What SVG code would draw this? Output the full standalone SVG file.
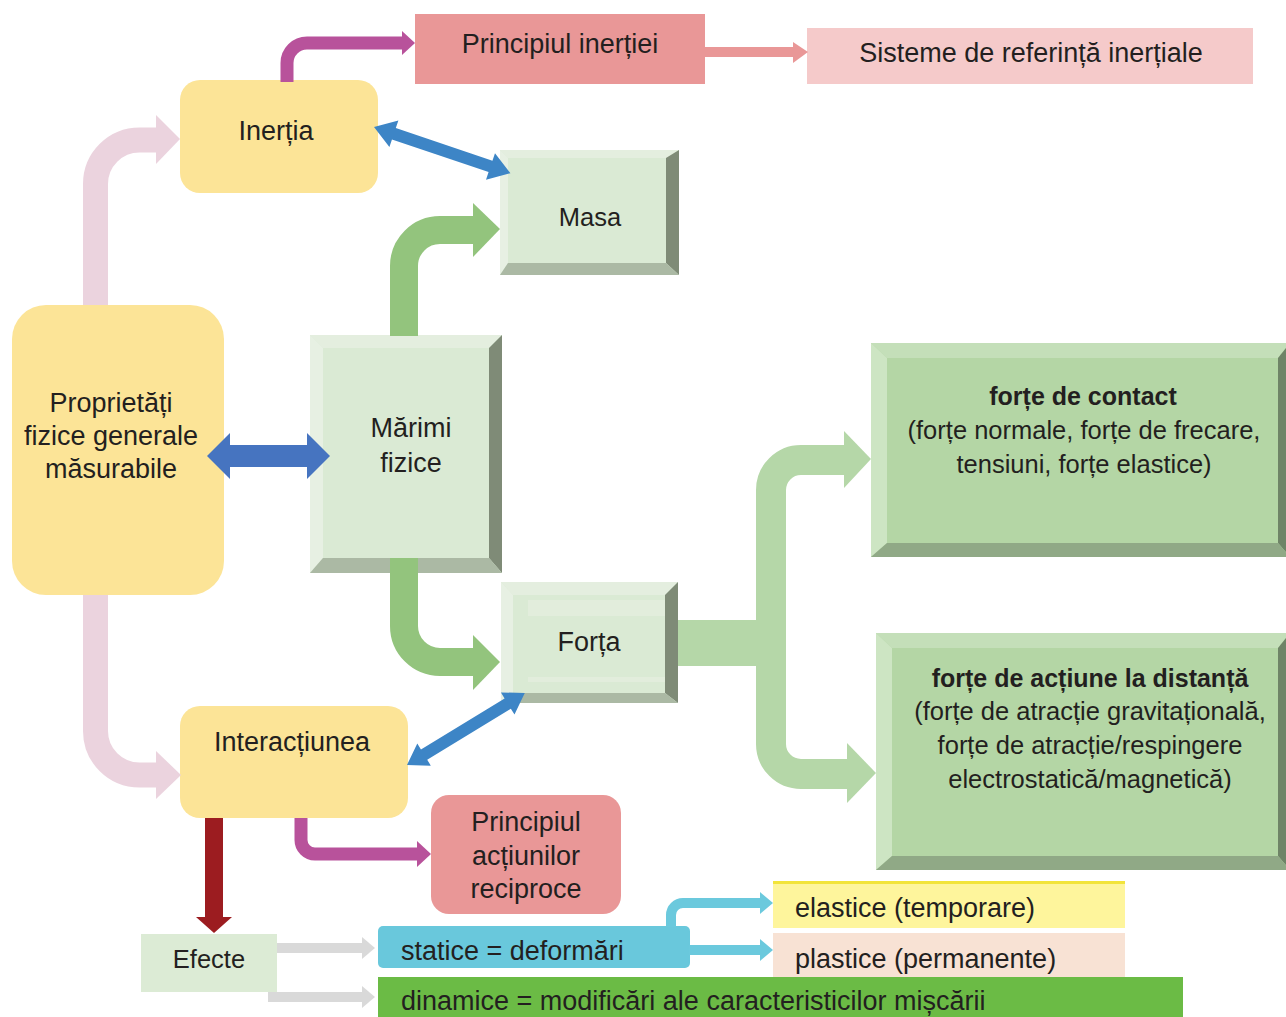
<svg xmlns="http://www.w3.org/2000/svg" width="1286" height="1017" viewBox="0 0 1286 1017">
  <style>
    text { font-family: "Liberation Sans", Arial, sans-serif; font-size: 27px; fill: #231F20; }
    .c { text-anchor: middle; }
    .s { font-size: 25.5px; }
    .g { font-size: 25.5px; }
    .b { font-weight: bold; font-size: 25px; }
    .yellow { fill: #FCE497; }
    .rose { fill: #E99797; }
    .face { fill: #DAEAD4; }
    .bt { fill: #E4EEDF; }
    .bl { fill: #E7F0E3; }
    .br { fill: #7F8B77; }
    .bb { fill: #ABB9A4; }
    .gface { fill: #B4D6A5; }
    .gt { fill: #C4DFB9; }
    .gl { fill: #CDE5C3; }
    .gr { fill: #6F8467; }
    .gb { fill: #90A986; }
    .pipe { fill: none; }
  </style>
  <rect width="1286" height="1017" fill="#FFFFFF"/>

  <!-- Nodes -->
  <g id="principiul-inertiei">
    <rect x="415" y="14" width="290" height="70" class="rose"/>
    <text x="560" y="53" class="c">Principiul inerției</text>
  </g>
  <g id="sisteme-referinta">
    <rect x="807" y="28" width="446" height="56" fill="#F5CACA"/>
    <text x="1031" y="62" class="c">Sisteme de referință inerțiale</text>
  </g>
  <g id="inertia">
    <rect x="180" y="80" width="198" height="113" rx="20" class="yellow"/>
    <text x="276" y="140" class="c">Inerția</text>
  </g>
  <g id="masa">
    <rect x="500" y="150" width="179" height="125" class="face"/>
    <polygon points="500,150 679,150 666,158 508,158" class="bt"/>
    <polygon points="500,150 508,158 508,263 500,275" class="bl"/>
    <polygon points="679,150 679,275 666,263 666,158" class="br"/>
    <polygon points="500,275 679,275 666,263 508,263" class="bb"/>
    <text x="590" y="226" class="c s">Masa</text>
  </g>
  <g id="proprietati">
    <rect x="12" y="305" width="212" height="290" rx="34" class="yellow"/>
    <text x="111" y="412" class="c">Proprietăți</text>
    <text x="111" y="445" class="c">fizice generale</text>
    <text x="111" y="478" class="c">măsurabile</text>
  </g>
  <g id="marimi-fizice">
    <rect x="310" y="335" width="192" height="238" class="face"/>
    <polygon points="310,335 502,335 489,348 323,348" class="bt"/>
    <polygon points="310,335 323,348 323,558 310,573" class="bl"/>
    <polygon points="502,335 502,573 489,558 489,348" class="br"/>
    <polygon points="310,573 502,573 489,558 323,558" class="bb"/>
    <text x="411" y="437" class="c">Mărimi</text>
    <text x="411" y="472" class="c">fizice</text>
  </g>
  <g id="forta">
    <rect x="501" y="582" width="177" height="121" class="face"/>
    <rect x="528" y="600" width="137" height="16" fill="#E2EDDC"/>
    <rect x="528" y="677" width="137" height="5" fill="#E2EDDC"/>
    <polygon points="501,582 678,582 665,595 513,595" class="bt"/>
    <polygon points="501,582 513,595 513,693 501,703" class="bl"/>
    <polygon points="678,582 678,703 665,693 665,595" class="br"/>
    <polygon points="501,703 678,703 665,693 513,693" class="bb"/>
    <text x="589" y="651" class="c">Forța</text>
  </g>
  <g id="forte-contact">
    <rect x="871" y="343" width="419" height="214" class="gface"/>
    <polygon points="871,343 1290,343 1278,358 887,358" class="gt"/>
    <polygon points="871,343 887,358 887,543 871,557" class="gl"/>
    <polygon points="1290,343 1290,557 1278,543 1278,358" class="gr"/>
    <polygon points="871,557 1290,557 1278,543 887,543" class="gb"/>
    <text x="1083" y="405" class="c b">forțe de contact</text>
    <text x="1084" y="439" class="c g">(forțe normale, forțe de frecare,</text>
    <text x="1084" y="473" class="c g">tensiuni, forțe elastice)</text>
  </g>
  <g id="forte-distanta">
    <rect x="876" y="633" width="414" height="237" class="gface"/>
    <polygon points="876,633 1290,633 1278,648 892,648" class="gt"/>
    <polygon points="876,633 892,648 892,856 876,870" class="gl"/>
    <polygon points="1290,633 1290,870 1278,856 1278,648" class="gr"/>
    <polygon points="876,870 1290,870 1278,856 892,856" class="gb"/>
    <text x="1090" y="687" class="c b">forțe de acțiune la distanță</text>
    <text x="1090" y="720" class="c g">(forțe de atracție gravitațională,</text>
    <text x="1090" y="754" class="c g">forțe de atracție/respingere</text>
    <text x="1090" y="788" class="c g">electrostatică/magnetică)</text>
  </g>
  <g id="interactiunea">
    <rect x="180" y="706" width="228" height="112" rx="20" class="yellow"/>
    <text x="292" y="751" class="c">Interacțiunea</text>
  </g>
  <g id="principiul-actiunilor">
    <rect x="431" y="795" width="190" height="119" rx="18" class="rose"/>
    <text x="526" y="831" class="c">Principiul</text>
    <text x="526" y="865" class="c">acțiunilor</text>
    <text x="526" y="898" class="c">reciproce</text>
  </g>
  <g id="efecte">
    <rect x="141" y="934" width="136" height="58" fill="#DCEBD5"/>
    <text x="209" y="968" class="c s">Efecte</text>
  </g>
  <g id="elastice">
    <rect x="773" y="882" width="352" height="46" fill="#FEF59C"/>
    <rect x="773" y="881" width="352" height="3" fill="#F2E43A"/>
    <text x="795" y="917">elastice (temporare)</text>
  </g>
  <g id="plastice">
    <rect x="773" y="933" width="352" height="46" fill="#F8E2D4"/>
    <text x="795" y="968">plastice (permanente)</text>
  </g>
  <g id="statice">
    <rect x="378" y="926" width="312" height="42" rx="5" fill="#69C8DC"/>
    <text x="401" y="960">statice = deformări</text>
  </g>
  <g id="dinamice">
    <rect x="378" y="977" width="805" height="45" fill="#6BBB45"/>
    <text x="401" y="1010">dinamice = modificări ale caracteristicilor mișcării</text>
  </g>

  <!-- Connectors -->
  <g id="connectors">
    <!-- Principiul inertiei -> Sisteme -->
    <rect x="700" y="47" width="95" height="10" fill="#E99797"/>
    <polygon points="793,42 808,52 793,63" fill="#E99797"/>
    <!-- Inertia -> Principiul inertiei -->
    <path d="M 287 82 V 63 A 20 20 0 0 1 307 43 H 404" class="pipe" stroke="#B8529B" stroke-width="13"/>
    <polygon points="402,31 415,43 402,55" fill="#B8529B"/>
    <!-- Proprietati -> Inertia -->
    <path d="M 95.5 305 V 184 A 44 44 0 0 1 139.5 140 H 158" class="pipe" stroke="#EBD3DE" stroke-width="25"/>
    <polygon points="156,115 180,139 156,164" fill="#EBD3DE"/>
    <!-- Proprietati -> Interactiunea -->
    <path d="M 95.5 595 V 731 A 44 44 0 0 0 139.5 775 H 158" class="pipe" stroke="#EBD3DE" stroke-width="25"/>
    <polygon points="156,751 181,775 156,799" fill="#EBD3DE"/>
    <!-- Inertia <-> Masa -->
    <g transform="translate(374,127) rotate(18.7)">
      <polygon points="0,0 21,-14 21,-6 123,-6 123,-14 144,0 123,14 123,6 21,6 21,14" fill="#3D85C6"/>
    </g>
    <!-- Proprietati <-> Marimi -->
    <polygon points="207,456 230,433 230,445 307,445 307,433 330,456 307,479 307,467 230,467 230,479" fill="#4674C0"/>
    <!-- Marimi -> Masa -->
    <path d="M 404 336 V 266 A 36 36 0 0 1 440 230 H 475" class="pipe" stroke="#93C47D" stroke-width="28"/>
    <polygon points="473,203 500,229 473,257" fill="#93C47D"/>
    <!-- Marimi -> Forta -->
    <path d="M 404 558 V 626 A 36 36 0 0 0 440 662 H 475" class="pipe" stroke="#93C47D" stroke-width="28"/>
    <polygon points="473,635 500,662 473,690" fill="#93C47D"/>
    <!-- Forta -> two force boxes -->
    <rect x="678" y="620" width="94" height="46" fill="#B5D7A8"/>
    <path d="M 771 645 V 490 A 30 30 0 0 1 801 460 H 846" class="pipe" stroke="#B5D7A8" stroke-width="30"/>
    <polygon points="844,431 871,459 844,488" fill="#B5D7A8"/>
    <path d="M 771 640 V 744 A 30 30 0 0 0 801 774 H 849" class="pipe" stroke="#B5D7A8" stroke-width="30"/>
    <polygon points="847,743 876,773 847,803" fill="#B5D7A8"/>
    <!-- Interactiunea <-> Forta -->
    <g transform="translate(407,765) rotate(-31.4)">
      <polygon points="0,0 20,-13 20,-6 118,-6 118,-13 138,0 118,13 118,6 20,6 20,13" fill="#3D85C6"/>
    </g>
    <!-- Interactiunea -> Principiul actiunilor -->
    <path d="M 301 818 V 840 A 14 14 0 0 0 315 854 H 419" class="pipe" stroke="#B8529B" stroke-width="13"/>
    <polygon points="417,841 431,854 417,867" fill="#B8529B"/>
    <!-- Interactiunea -> Efecte -->
    <rect x="205" y="818" width="18" height="100" fill="#9C1C20"/>
    <polygon points="196,917 232,917 214,933" fill="#9C1C20"/>
    <!-- Efecte -> statice / dinamice -->
    <rect x="277" y="943" width="86" height="10" fill="#D9D9D9"/>
    <polygon points="362,937 375,948 362,959" fill="#D9D9D9"/>
    <rect x="268" y="992" width="95" height="10" fill="#D9D9D9"/>
    <polygon points="362,986 375,997 362,1008" fill="#D9D9D9"/>
    <!-- statice -> elastice / plastice -->
    <path d="M 671 927 V 915 A 12 12 0 0 1 683 903 H 762" class="pipe" stroke="#6BC9DD" stroke-width="10"/>
    <polygon points="760,892 773,903 760,914" fill="#6BC9DD"/>
    <rect x="689" y="945" width="73" height="10" fill="#6BC9DD"/>
    <polygon points="760,939 773,950 760,961" fill="#6BC9DD"/>
  </g>
</svg>
